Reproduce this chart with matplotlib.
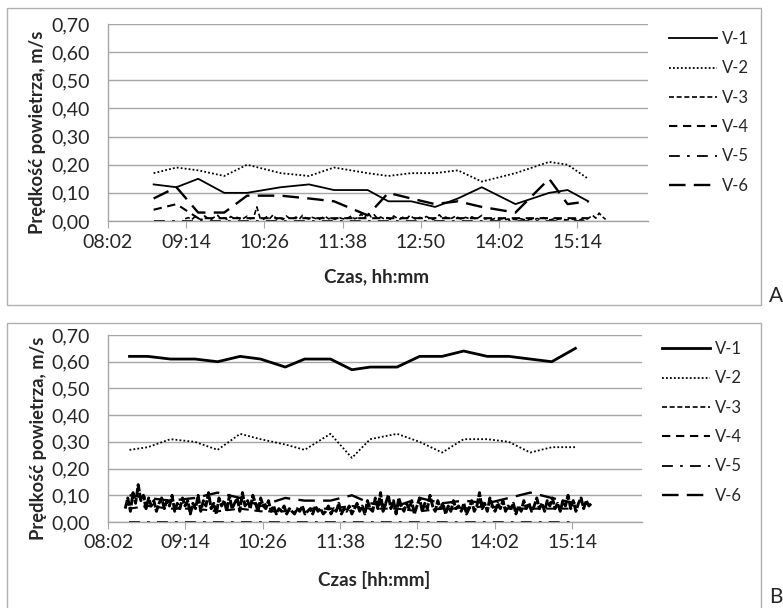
import matplotlib
matplotlib.use("Agg")
import matplotlib.pyplot as plt
import numpy as np
from matplotlib.patches import Rectangle
from matplotlib.ticker import FuncFormatter

plt.rcParams['font.family'] = ['Lato', 'DejaVu Sans']

# czasy pomiarow (hh:mm)
times_a = ["08:44", "09:05", "09:25", "09:49", "10:10", "10:41", "11:07", "11:30", "12:01",
           "12:20", "12:41", "13:03", "13:24", "13:46", "14:17", "14:48", "15:05", "15:24"]
v1_a = [0.13, 0.12, 0.15, 0.10, 0.10, 0.12, 0.13, 0.11, 0.11, 0.07, 0.07, 0.05, 0.08, 0.12, 0.06, 0.10, 0.11, 0.07]
v2_a = [0.17, 0.19, 0.18, 0.16, 0.20, 0.17, 0.16, 0.19, 0.17, 0.16, 0.17, 0.17, 0.18, 0.14, 0.17, 0.21, 0.20, 0.15]
v4_a = [0.04, 0.06, 0.01, 0.01, 0.01, 0.01, 0.01, 0.01, 0.01, 0.01, 0.01, 0.01, 0.01, 0.01, 0.01, 0.01, 0.01, 0.01]
v5_a = [0.00] * 18
v6_a = [0.08, 0.12, 0.03, 0.03, 0.09, 0.09, 0.08, 0.07, 0.02, 0.10, 0.08, 0.06, 0.07, 0.05, 0.03, 0.15, 0.06, 0.07]

# V-3: zapis ciagly, co 3 min od 09:13 (wartosci w mm/s)
v3_a_start, v3_a_end = "09:13", "15:40"
v3_a = [8, 12, 5, 15, 10, 4, 18, 9, 6, 14, 20, 7, 11, 5, 16, 9, 13, 6, 10, 17,
        8, 12, 50, 10, 6, 15, 9, 22, 7, 12, 5, 18, 10, 8, 14, 6, 20, 11, 7, 13,
        9, 5, 12, 16, 8, 10, 6, 14, 9, 7, 11, 18, 8, 12, 25, 10, 30, 15, 22, 9,
        14, 8, 12, 6, 18, 10, 7, 15, 9, 20, 11, 6, 13, 8, 16, 10, 5, 12, 22, 9,
        14, 7, 11, 18, 10, 6, 13, 9, 15, 8, 12, 20, 7, 10, 5, 9, 6, 8, 4, 7,
        5, 6, 4, 8, 5, 3, 6, 4, 9, 5, 12, 6, 4, 7, 5, 8, 6, 4, 5, 7,
        6, 4, 8, 5, 12, 20, 10, 28, 15, 6]

times_b = ["08:22", "08:39", "09:00", "09:23", "09:44", "10:05", "10:24", "10:47", "11:05", "11:29",
           "11:49", "12:06", "12:31", "12:52", "13:13", "13:33", "13:55", "14:15", "14:35", "14:55", "15:17"]
v1_b = [0.62, 0.62, 0.61, 0.61, 0.60, 0.62, 0.61, 0.58, 0.61, 0.61, 0.57,
        0.58, 0.58, 0.62, 0.62, 0.64, 0.62, 0.62, 0.61, 0.60, 0.65]
v2_b = [0.27, 0.28, 0.31, 0.30, 0.27, 0.33, 0.31, 0.29, 0.27, 0.33, 0.24,
        0.31, 0.33, 0.30, 0.26, 0.31, 0.31, 0.30, 0.26, 0.28, 0.28]
v4_b = [0.05, 0.06, 0.05, 0.05, 0.04, 0.05, 0.04, 0.04, 0.05, 0.05, 0.06,
        0.05, 0.05, 0.04, 0.05, 0.05, 0.06, 0.05, 0.05, 0.05, 0.05]
v5_b = [0.00] * 21
v6_b = [0.10, 0.09, 0.08, 0.09, 0.11, 0.09, 0.06, 0.09, 0.08, 0.08, 0.10,
        0.07, 0.06, 0.09, 0.07, 0.08, 0.07, 0.09, 0.11, 0.09, 0.07]

# V-3 w wariancie B: zapis ciagly 08:18-15:32 (wartosci w cm/s)
v3_b_start, v3_b_end = "08:18", "15:32"
v3_b = [5, 9, 4, 11, 7, 14, 8, 10, 5, 9, 6, 8, 4, 7, 9, 5, 8, 6, 10, 4,
        7, 5, 9, 6, 8, 3, 7, 5, 10, 4, 8, 6, 11, 5, 7, 3, 9, 6, 8, 4,
        10, 5, 7, 9, 4, 11, 6, 8, 5, 10, 7, 4, 9, 6, 5, 8, 4, 6, 3, 5,
        4, 6, 3, 5, 4, 3, 5, 4, 6, 3, 4, 5, 3, 6, 4, 5, 3, 4, 6, 3,
        5, 4, 7, 3, 5, 4, 6, 3, 5, 7, 4, 6, 3, 8, 5, 4, 9, 5, 11, 4,
        7, 10, 5, 8, 3, 9, 6, 4, 7, 5, 8, 3, 6, 9, 4, 7, 5, 10, 6, 4,
        8, 5, 7, 3, 6, 4, 8, 5, 6, 4, 7, 3, 5, 8, 4, 6, 11, 5, 7, 4,
        9, 6, 4, 7, 5, 8, 4, 6, 5, 7, 3, 6, 4, 8, 5, 7, 4, 6, 9, 5,
        7, 4, 8, 6, 9, 5, 7, 4, 8, 6, 10, 5, 8, 4, 7, 9, 5, 8, 6, 7]

tick_labels = ["08:02", "09:14", "10:26", "11:38", "12:50", "14:02", "15:14"]
y_ticks = [0.0, 0.1, 0.2, 0.3, 0.4, 0.5, 0.6, 0.7]
labels = ["V-1", "V-2", "V-3", "V-4", "V-5", "V-6"]


def minutes(hhmm):
    h, m = hhmm.split(":")
    return int(h) * 60 + int(m)


styles = {
    "V-1": dict(ls="-", lw=1.3),
    "V-2": dict(ls=(0, (1, 1.2)), lw=1.3),
    "V-3": dict(ls=(0, (3, 1.6)), lw=1.2),
    "V-4": dict(ls=(0, (4, 2.7)), lw=1.5),
    "V-5": dict(ls=(0, (6, 4, 1.5, 4)), lw=1.3),
    "V-6": dict(ls=(0, (7, 3.5)), lw=1.7),
}

fig = plt.figure(figsize=(7.83, 6.08), dpi=100)
W, H = 783, 608
text_col = "#262626"


def fx(px):
    return px / W


def fy(py):
    return 1 - py / H


def panel(rect, times, v1, v2, v3t, v3, v4, v5, v6, xlabel, leg_xy, v1_lw, v3_style):
    ax = fig.add_axes(rect)
    t = [minutes(s) for s in times]
    series = {"V-1": (t, v1), "V-2": (t, v2), "V-3": (v3t, v3),
              "V-4": (t, v4), "V-5": (t, v5), "V-6": (t, v6)}
    handles = []
    for name in labels:
        st = dict(styles[name])
        if name == "V-1":
            st["lw"] = v1_lw
        xs, ys = series[name]
        if name == "V-3":
            ax.plot(xs, ys, color="black", **v3_style)
            # probka do legendy z typowym stylem V-3
            h, = ax.plot([], [], color="black", label=name, **st)
        else:
            h, = ax.plot(xs, ys, color="black", label=name, **st)
        handles.append(h)

    x0 = minutes("08:02")
    ax.set_xlim(x0, x0 + 497)
    ax.set_ylim(0, 0.7)
    ax.set_xticks([minutes(s) for s in tick_labels])
    ax.set_xticklabels(tick_labels)
    ax.set_yticks(y_ticks)
    ax.yaxis.set_major_formatter(FuncFormatter(lambda v, p: f"{v:.2f}".replace(".", ",")))
    ax.grid(axis="y", color="#a6a6a6", lw=1)
    ax.set_axisbelow(True)
    for s in ["top", "right"]:
        ax.spines[s].set_visible(False)
    for s in ["left", "bottom"]:
        ax.spines[s].set_color("#a6a6a6")
        ax.spines[s].set_linewidth(1)
    ax.tick_params(axis="x", length=5, color="#a6a6a6", labelsize=14, pad=4, labelcolor=text_col)
    ax.tick_params(axis="y", length=0, labelsize=14, pad=13, labelcolor=text_col)

    ax.text(-0.131, 0.45, "Prędkość powietrza, m/s", transform=ax.transAxes, rotation=90,
            ha="center", va="center", fontsize=13.2, fontweight="bold", color=text_col)
    ax.text(0.498, xlabel[1], xlabel[0], transform=ax.transAxes, ha="center", va="center",
            fontsize=13.5, fontweight="bold", color=text_col)

    fig.legend(handles=handles, loc="upper left", bbox_to_anchor=leg_xy, bbox_transform=fig.transFigure,
               frameon=False, fontsize=12, handlelength=2.9, handletextpad=0.25,
               labelspacing=0.8, borderpad=0, borderaxespad=0, labelcolor=text_col)
    return ax


# panel A
a_t3 = np.linspace(minutes(v3_a_start), minutes(v3_a_end), len(v3_a))
panel([fx(108), fy(221), fx(648) - fx(108), fy(24) - fy(221)],
      times_a, v1_a, v2_a, a_t3, np.array(v3_a) / 1000, v4_a, v5_a, v6_a,
      ("Czas, hh:mm", -0.284), (fx(669), fy(31)), 1.3,
      dict(ls=(0, (3, 1.6)), lw=1.2))

# panel B
b_t3 = np.linspace(minutes(v3_b_start), minutes(v3_b_end), len(v3_b))
panel([fx(108), fy(522), fx(642) - fx(108), fy(335) - fy(522)],
      times_b, v1_b, v2_b, b_t3, np.array(v3_b) / 100, v4_b, v5_b, v6_b,
      ("Czas [hh:mm]", -0.31), (fx(662), fy(341)), 2.0,
      dict(ls=(0, (3, 0.5)), lw=2.1))

# ramki wykresow
fig.patches.append(Rectangle((fx(7), fy(305)), fx(761) - fx(7), fy(8) - fy(305),
                             transform=fig.transFigure, fill=False, ec="#b0b0b0", lw=1))
fig.patches.append(Rectangle((fx(7), fy(620)), fx(761) - fx(7), fy(323) - fy(620),
                             transform=fig.transFigure, fill=False, ec="#b0b0b0", lw=1))
fig.text(fx(776), fy(296), "A", ha="center", va="center", fontsize=15, color=text_col)
fig.text(fx(776), fy(597), "B", ha="center", va="center", fontsize=15, color=text_col)

fig.savefig("out.png", dpi=100)
